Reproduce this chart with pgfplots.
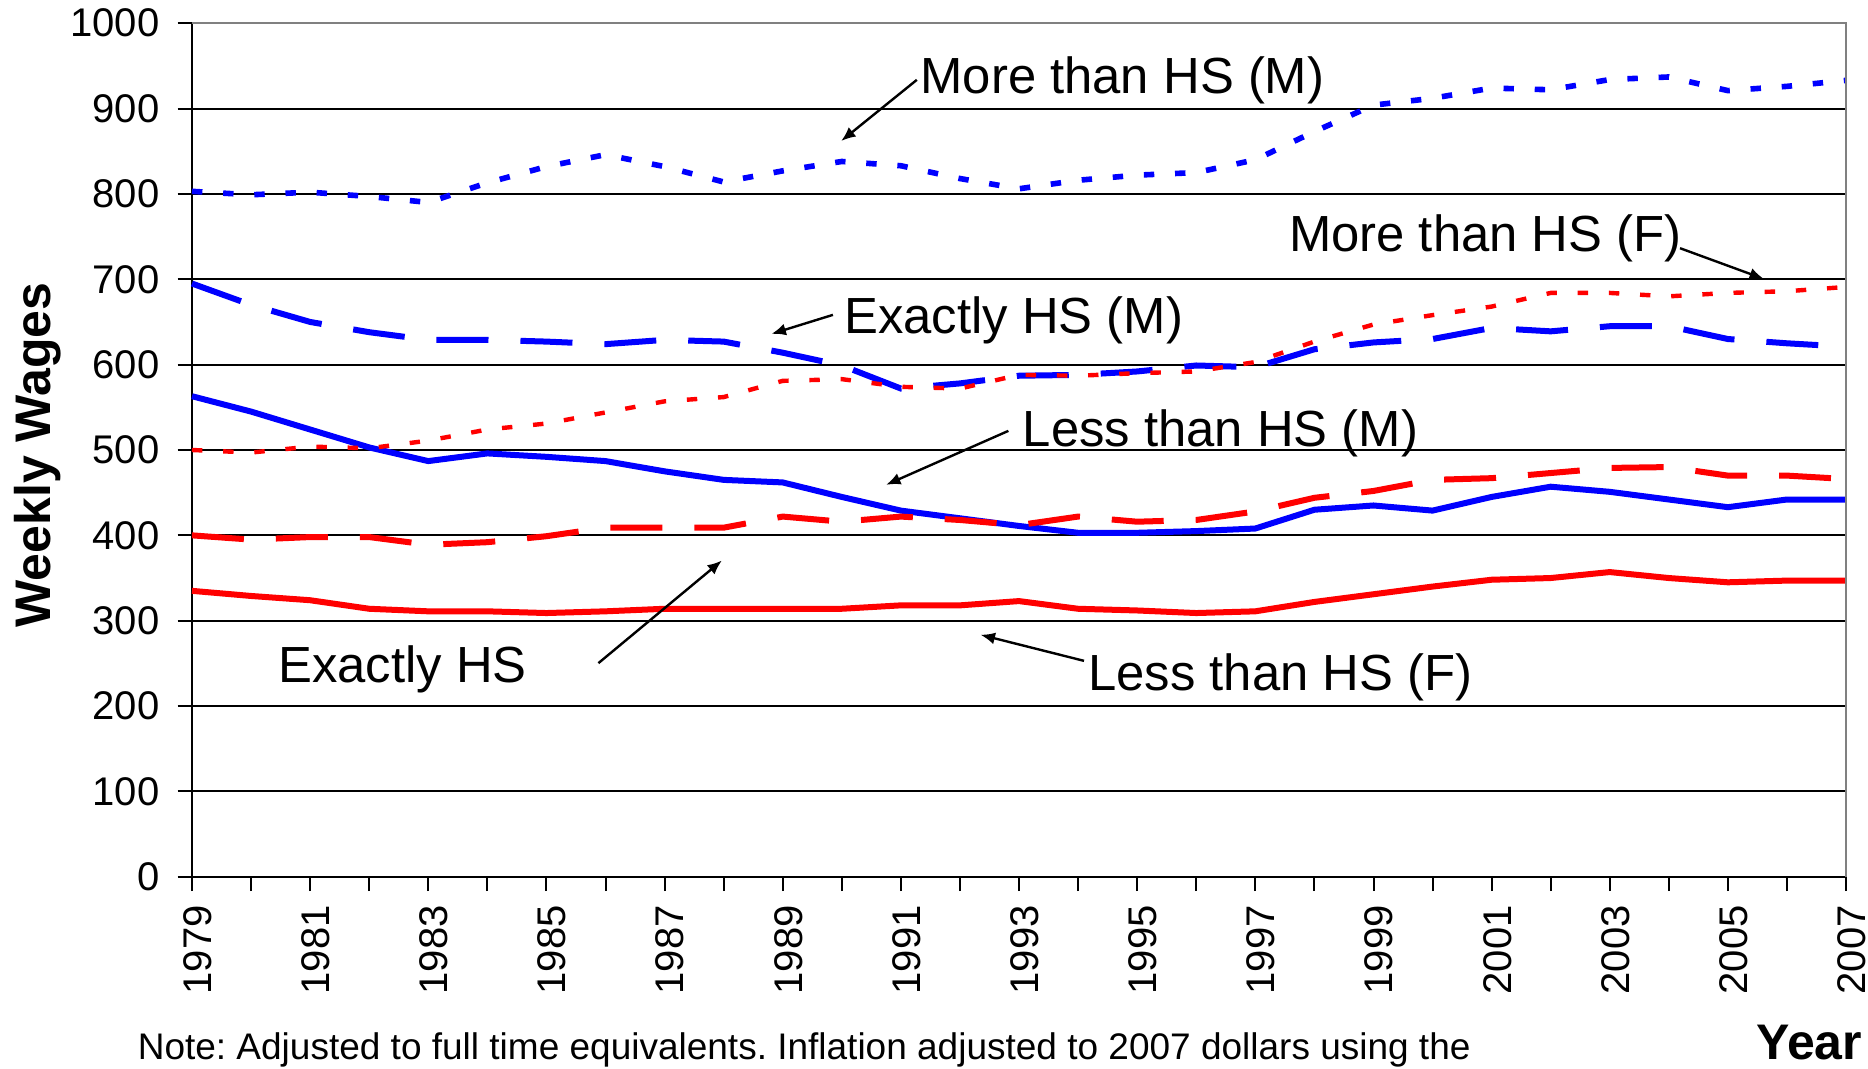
\documentclass[border=0pt]{standalone}
\usepackage{fontspec}
\setmainfont{Liberation Sans}
\usepackage{pgfplots}
\usepackage{pgfplotstable}
\pgfplotsset{compat=1.18}
\usetikzlibrary{arrows.meta}

\pgfplotstableread{
year moreM exM lessM moreF exF lessF
1979 803 695 563 500 400 335
1980 799 670 545 497 395 329
1981 802 650 524 504 398 324
1982 797 638 503 502 398 314
1983 790 629 487 511 389 311
1984 813 629 496 524 392 311
1985 832 627 492 531 399 309
1986 846 624 487 544 409 311
1987 832 629 475 557 409 314
1988 814 627 465 562 409 314
1989 827 614 462 581 422 314
1990 838 599 445 583 416 314
1991 833 572 429 574 422 318
1992 818 578 420 572 418 318
1993 806 587 411 588 412 323
1994 816 588 403 587 422 314
1995 822 592 403 590 416 312
1996 825 599 405 592 418 309
1997 840 597 408 603 428 311
1998 873 618 430 627 444 322
1999 904 626 435 647 452 331
2000 912 630 429 658 465 340
2001 924 643 445 668 467 348
2002 922 639 457 684 473 350
2003 934 645 451 684 479 357
2004 937 645 442 680 480 350
2005 921 630 433 684 470 345
2006 926 625 442 686 470 347
2007 933 621 442 691 466 347
}\wages

\definecolor{pblue}{RGB}{0,0,255}
\definecolor{pred}{RGB}{255,0,0}

\begin{document}
\frenchspacing
\begin{tikzpicture}
\begin{axis}[name=ax, scale only axis, width=413.5pt, height=213.4pt,
  xmin=1979, xmax=2007, ymin=0, ymax=1000,
  axis x line*=bottom, axis y line*=left,
  axis line style={black, line width=0.5pt, -},
  xtick={1979,1981,...,2007}, minor xtick={1980,1982,...,2006},
  ytick={0,100,...,1000},
  tick align=outside, major tick length=3.6pt, minor tick length=3.6pt,
  tick style={black, line width=0.5pt},
  ymajorgrids, grid style={black, line width=0.5pt},
  /pgf/number format/assume math mode=true,
  /pgf/number format/1000 sep={},
  xticklabel style={rotate=90, anchor=east, yshift=-1.4pt, font=\fontsize{10}{12}\selectfont},
  yticklabel style={xshift=-1pt, font=\fontsize{10}{12}\selectfont},
  clip=false,
]
\addplot[pblue, line width=1.4pt, dash pattern=on 2.6pt off 5.2pt] table[x=year, y=moreM] {\wages};
\addplot[pblue, line width=1.5pt, dash pattern=on 13pt off 8pt] table[x=year, y=exM] {\wages};
\addplot[pblue, line width=1.5pt, line join=round] table[x=year, y=lessM] {\wages};
\addplot[pred, line width=1.1pt, dash pattern=on 2.6pt off 5.2pt] table[x=year, y=moreF] {\wages};
\addplot[pred, line width=1.5pt, dash pattern=on 13pt off 8pt] table[x=year, y=exF] {\wages};
\addplot[pred, line width=1.5pt, line join=round] table[x=year, y=lessF] {\wages};

\draw[gray, line width=0.6pt] (rel axis cs:0,1) -- (rel axis cs:1,1) -- (rel axis cs:1,0);

\tikzset{ann/.style={anchor=base west, inner sep=0pt, font=\fontsize{12.7}{15}\selectfont},
         arr/.style={-{Latex[length=3.6pt,width=3pt]}, line width=0.6pt, black}}
\node[ann] at (axis cs:1991.32,918) {More than HS (M)};
\draw[arr] (axis cs:1991.27,933.6) -- (axis cs:1989.99,862);
\node[ann] at (axis cs:1997.56,732.5) {More than HS (F)};
\draw[arr] (axis cs:2004.19,736.4) -- (axis cs:2005.61,700.4);
\node[ann] at (axis cs:1990.03,636) {Exactly HS (M)};
\draw[arr] (axis cs:1989.85,658.3) -- (axis cs:1988.81,636);
\node[ann] at (axis cs:1993.05,504) {Less than HS (M)};
\draw[arr] (axis cs:1992.82,522.4) -- (axis cs:1990.75,459.2);
\node[ann] at (axis cs:1980.45,228) {Exactly HS};
\draw[arr] (axis cs:1985.88,250.3) -- (axis cs:1987.97,370.5);
\node[ann] at (axis cs:1994.16,218) {Less than HS (F)};
\draw[arr] (axis cs:1994.1,253) -- (axis cs:1992.35,283.5);

\node[xshift=-38.6pt, rotate=90, inner sep=0pt, font=\bfseries\fontsize{12.5}{15}\selectfont] at (rel axis cs:0,0.494) {Weekly Wages};
\node[anchor=base west, inner sep=0pt, xshift=-13.75pt, yshift=-45.75pt, font=\fontsize{9.25}{12}\selectfont] at (rel axis cs:0,0) {Note: Adjusted to full time equivalents. Inflation adjusted to 2007 dollars using the};
\node[anchor=base east, inner sep=0pt, xshift=4.25pt, yshift=-45.75pt, font=\bfseries\fontsize{12.5}{14}\selectfont] at (rel axis cs:1,0) {Year};
\end{axis}
\pgfresetboundingbox
\path[use as bounding box] ([xshift=-48pt,yshift=-48pt]ax.south west) rectangle ([xshift=5.5pt,yshift=5.8pt]ax.north east);
\end{tikzpicture}
\end{document}
